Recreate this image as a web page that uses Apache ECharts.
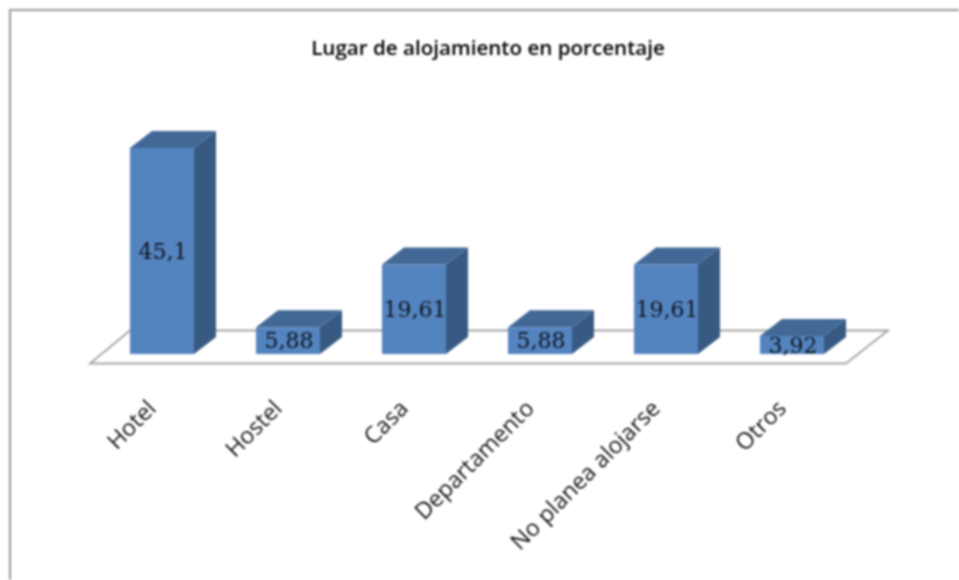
<!DOCTYPE html>
<html><head><meta charset="utf-8">
<style>html,body{margin:0;padding:0;background:#fff}#c{width:959px;height:580px;filter:blur(0.8px)}</style>
<script src="https://cdn.jsdelivr.net/npm/echarts@6/dist/echarts.min.js"></script>
</head><body><div id="c"></div>
<script>
const titleText = 'Lugar de alojamiento en porcentaje';
const categories = ['Hotel','Hostel','Casa','Departamento','No planea alojarse','Otros'];
const values = [45.1,5.88,19.61,5.88,19.61,3.92];

const depthX = 22, depthY = 17, barRatio = 0.508;
const chart = echarts.init(document.getElementById('c'));

function renderFloor(params, api){
  const cs = params.coordSys;
  const b = cs.y + cs.height;
  return {type:'polygon', silent:true,
    shape:{points:[[cs.x-9,b+9.5],[cs.x+cs.width-9,b+9.5],[cs.x+cs.width+33,b-23.5],[cs.x+31,b-23.5]]},
    style:{fill:'#fff',stroke:'#a4a4a4',lineWidth:1.8}};
}
function renderBar(params, api){
  const i = api.value(0), v = api.value(1);
  const top = api.coord([i,v]), base = api.coord([i,0]);
  const w = api.size([1,0])[0]*barRatio;
  const l = top[0]-w/2, r = top[0]+w/2, t = top[1], b = base[1];
  return {type:'group',children:[
    {type:'polygon',shape:{points:[[r,t],[r+depthX,t-depthY],[r+depthX,b-depthY],[r,b]]},style:{fill:'#385a82'}},
    {type:'polygon',shape:{points:[[l,t],[l+depthX,t-depthY],[r+depthX,t-depthY],[r,t]]},style:{fill:'#426996'}},
    {type:'rect',shape:{x:l,y:t,width:w,height:b-t},style:{fill:'#5484c0'}},
    {type:'text',style:{x:top[0]+1,y:(t+b)/2+2,text:String(v).replace('.',','),align:'center',verticalAlign:'middle',
      font:'22px "DejaVu Serif"',fill:'#10151f'}}
  ]};
}
chart.setOption({
  animation:false,
  backgroundColor:'#fff',
  title:{text:titleText,left:488,top:34,textAlign:'center',
    textStyle:{fontFamily:'Open Sans',fontSize:20.6,fontWeight:600,color:'#000'},
    padding:[5,10,5,0]},
  grid:{left:99,width:756,top:125.5,height:228.5},
  xAxis:{type:'category',data:categories,axisLine:{show:false},axisTick:{show:false},
    axisLabel:{rotate:45,margin:42,padding:[0,13,0,0],interval:0,fontFamily:'Open Sans',fontSize:23,color:'#111'}},
  yAxis:{type:'value',min:0,max:50,show:false,splitLine:{show:false}},
  graphic:[
    {type:'polyline',silent:true,shape:{points:[[10,580],[10,10],[959,10]]},
     style:{fill:'none',stroke:'#999999',lineWidth:2}}
  ],
  series:[
    {type:'custom',renderItem:renderFloor,data:[[0,0]],z:1,silent:true},
    {type:'custom',renderItem:renderBar,data:values.map((v,i)=>[i,v]),z:2,encode:{x:0,y:1}}
  ]
});
</script></body></html>
